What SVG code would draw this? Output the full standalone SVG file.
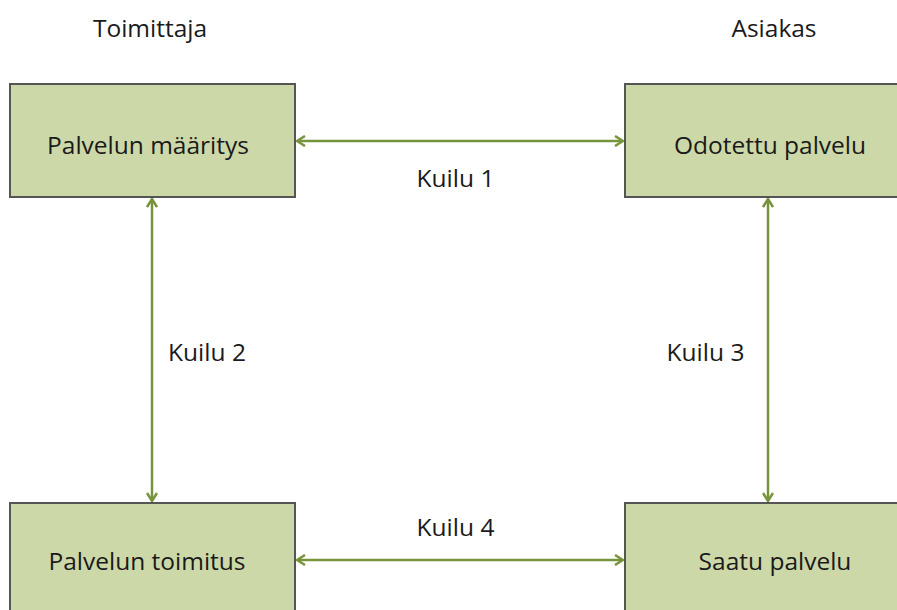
<svg xmlns="http://www.w3.org/2000/svg" width="897" height="610" viewBox="0 0 897 610">
<style>
.box{fill:#cdd8a9;stroke:#555;stroke-width:2}
.t{font-family:"Open Sans","Liberation Sans",sans-serif;font-size:24.5px;fill:#1a1a1a;text-anchor:middle}
.c{stroke:#77933c;stroke-width:2.5;fill:none;marker-start:url(#a);marker-end:url(#a)}
</style>
<defs>
<marker id="a" viewBox="0 0 12 12" refX="11" refY="6" markerWidth="12" markerHeight="12" markerUnits="userSpaceOnUse" orient="auto-start-reverse">
<path d="M3,1 L11,6 L3,11" fill="none" stroke="#77933c" stroke-width="2.5"/>
</marker>
</defs>
<rect width="897" height="610" fill="#fff"/>
<text class="t" x="150" y="37">Toimittaja</text>
<text class="t" x="774" y="37">Asiakas</text>
<g id="n1"><rect class="box" x="10" y="84" width="285" height="113"/><text class="t" x="148" y="154">Palvelun määritys</text></g>
<g id="n2"><rect class="box" x="625" y="84" width="285" height="113"/><text class="t" x="770" y="154">Odotettu palvelu</text></g>
<g id="n3"><rect class="box" x="10" y="503" width="285" height="113"/><text class="t" x="147" y="570">Palvelun toimitus</text></g>
<g id="n4"><rect class="box" x="625" y="503" width="285" height="113"/><text class="t" x="775" y="570">Saatu palvelu</text></g>
<g id="edges">
<line class="c" x1="297" y1="141" x2="623" y2="141"/>
<line class="c" x1="152" y1="199" x2="152" y2="501"/>
<line class="c" x1="768" y1="199" x2="768" y2="501"/>
<line class="c" x1="297" y1="560" x2="623" y2="560"/>
</g>
<text class="t" x="455.5" y="187">Kuilu 1</text>
<text class="t" x="207" y="361">Kuilu 2</text>
<text class="t" x="705.5" y="361">Kuilu 3</text>
<text class="t" x="455.5" y="536">Kuilu 4</text>
</svg>
